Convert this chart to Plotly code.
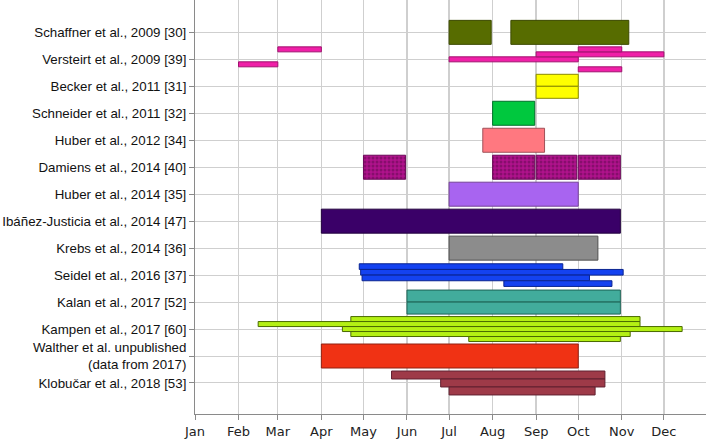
import plotly.graph_objects as go
import pandas as pd

# ---------------- data ----------------
studies = [
    "Schaffner et al., 2009 [30]",
    "Versteirt et al., 2009 [39]",
    "Becker et al., 2011 [31]",
    "Schneider et al., 2011 [32]",
    "Huber et al., 2012 [34]",
    "Damiens et al., 2014 [40]",
    "Huber et al., 2014 [35]",
    "Ibáñez-Justicia et al., 2014 [47]",
    "Krebs et al., 2014 [36]",
    "Seidel et al., 2016 [37]",
    "Kalan et al., 2017 [52]",
    "Kampen et al., 2017 [60]",
    "Walther et al. unpublished<br>(data from 2017)",
    "Klobučar et al., 2018 [53]",
]

# one entry per sampling period
bar_study = [0, 0,
             1, 1, 1, 1, 1, 1,
             2, 2,
             3,
             4,
             5, 5, 5, 5,
             6,
             7,
             8,
             9, 9, 9, 9,
             10, 10,
             11, 11, 11, 11, 11,
             12,
             13, 13, 13]
bar_start = ["07-01", "08-14",
             "02-01", "03-01", "07-01", "09-01", "10-01", "10-01",
             "09-01", "09-01",
             "08-01",
             "07-25",
             "05-01", "08-01", "09-01", "10-01",
             "07-01",
             "04-01",
             "07-01",
             "04-28", "04-29", "04-30", "08-09",
             "06-01", "06-01",
             "04-22", "02-15", "04-16", "04-22", "07-15",
             "04-01",
             "05-21", "06-25", "07-01"]
bar_end = ["07-31", "11-06",
           "03-01", "04-01", "10-01", "12-01", "11-01", "11-01",
           "10-01", "10-01",
           "08-31",
           "09-07",
           "05-31", "08-31", "09-30", "10-31",
           "10-01",
           "10-31",
           "10-15",
           "09-20", "11-02", "10-09", "10-25",
           "10-31", "10-31",
           "11-14", "11-14", "12-14", "11-07", "10-31",
           "10-01",
           "10-20", "10-20", "10-13"]
# sub-row of each period inside its study (0 = top lane)
bar_lane = [0, 0,
            3, 0, 2, 1, 0, 4,
            0, 1,
            0,
            0,
            0, 0, 0, 0,
            0,
            0,
            0,
            0, 1, 2, 3,
            0, 1,
            0, 1, 2, 3, 4,
            0,
            0, 1, 2]

month_labels = ["Jan", "Feb", "Mar", "Apr", "May", "Jun",
                "Jul", "Aug", "Sep", "Oct", "Nov", "Dec"]
month_starts = ["01-01", "02-01", "03-01", "04-01", "05-01", "06-01",
                "07-01", "08-01", "09-01", "10-01", "11-01", "12-01"]

# ---------------- style ----------------
fills = ["#576c00", "#f020a8", "#ffff00", "#00c83e", "#ff7880", "#b0128c",
         "#a864f0", "#3a0068", "#8c8c8c", "#1442f0", "#42ac9c", "#b4f014",
         "#f03214", "#9e3a48"]
edges = ["#3c4a00", "#a0106e", "#8a8a00", "#00702a", "#a05058", "#6a0856",
         "#744298", "#22003e", "#505050", "#0a2490", "#1e6456", "#4a6a00",
         "#902010", "#602030"]
# lane layout per study: (number of lanes, lane height in category units)
lane_layout = {0: (1, 0.89), 1: (5, 0.185), 2: (2, 0.445), 3: (1, 0.89),
               4: (1, 0.89), 5: (1, 0.89), 6: (1, 0.89), 7: (1, 0.89),
               8: (1, 0.89), 9: (4, 0.21), 10: (2, 0.445), 11: (5, 0.185),
               12: (1, 0.89), 13: (3, 0.296)}


def doy(s):
    return pd.Timestamp("2017-" + s).dayofyear - 1


fig = go.Figure()
for si in range(len(studies)):
    n, h = lane_layout[si]
    ys, bases, lens, widths = [], [], [], []
    for k in range(len(bar_study)):
        if bar_study[k] != si:
            continue
        lane = bar_lane[k]
        ys.append(si + (lane - (n - 1) / 2) * h)
        s, e = doy(bar_start[k]), doy(bar_end[k])
        bases.append(s)
        lens.append(e - s)
        widths.append(h)
    marker = dict(color=fills[si], line=dict(color=edges[si], width=1))
    if si == 5:
        marker["pattern"] = dict(shape=".", fgcolor="#5e0a4c",
                                 bgcolor=fills[si], size=4, solidity=0.45)
    fig.add_trace(go.Bar(
        y=ys, x=lens, base=bases, width=widths, orientation="h",
        marker=marker, showlegend=False, hoverinfo="skip"))

fig.update_layout(
    width=708, height=442, autosize=False,
    margin=dict(l=195, r=2, t=0, b=28),
    paper_bgcolor="white", plot_bgcolor="white",
    barmode="overlay",
    xaxis=dict(
        range=[0, 364], tickmode="array", automargin=False,
        tickvals=[doy(m) for m in month_starts], ticktext=month_labels,
        showgrid=True, gridcolor="#cfcfcf", gridwidth=1.3,
        showline=True, linecolor="#8a8a8a", linewidth=1,
        ticks="outside", ticklen=5, tickcolor="#8a8a8a",
        tickfont=dict(family="DejaVu Sans", size=13, color="#222"),
        zeroline=False),
    yaxis=dict(
        range=[14.15, -1.2], tickmode="array", automargin=False,
        tickvals=list(range(len(studies))), ticktext=studies,
        showgrid=True, gridcolor="#cfcfcf", gridwidth=1,
        showline=True, linecolor="#8a8a8a", linewidth=1,
        ticks="outside", ticklen=5, tickcolor="#8a8a8a",
        tickfont=dict(family="Liberation Sans, Arial", size=13.3, color="#111"),
        zeroline=False),
)

fig.write_html("out.html",
               config={"displayModeBar": False, "staticPlot": True},
               post_script="document.body.style.margin='0';"
                           "document.body.style.overflow='hidden';")
